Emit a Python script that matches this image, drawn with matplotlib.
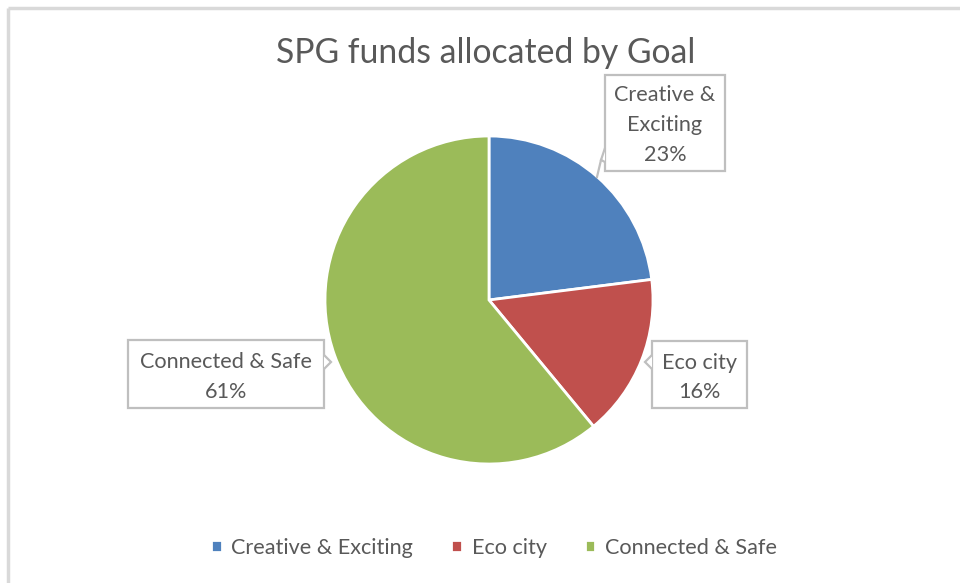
"""Pie chart of SPG funds allocated by goal, with callout labels."""

import matplotlib

matplotlib.use("Agg")
import matplotlib.pyplot as plt
from matplotlib.patches import Rectangle, Polygon

# Data
goals = ["Creative & Exciting", "Eco city", "Connected & Safe"]
shares = [23, 16, 61]
callout_text = ["Creative &\nExciting\n23%", "Eco city\n16%", "Connected & Safe\n61%"]

COLORS = ["#4F81BD", "#C0504D", "#9BBB59"]
TEXT = "#595959"
BOX = "#BFBFBF"

plt.rcParams.update({"font.family": ["Lato", "DejaVu Sans"]})

W, H = 960, 583
fig = plt.figure(figsize=(W / 100, H / 100), dpi=100)

# pie axes: centre (489, 300) px, radius 164 px
cx, cy, r = 489, 300, 164
pie_ax = fig.add_axes([(cx - r) / W, (H - cy - r) / H, 2 * r / W, 2 * r / H])
wedges, _ = pie_ax.pie(
    shares,
    colors=COLORS,
    startangle=90,
    counterclock=False,
    radius=1.0,
    wedgeprops={"edgecolor": "white", "linewidth": 2},
)
pie_ax.set_xlim(-1, 1)
pie_ax.set_ylim(-1, 1)
pie_ax.set_aspect("equal")

# overlay axes in pixel coords (y down)
ov = fig.add_axes([0, 0, 1, 1], facecolor="none")
ov.set_xlim(0, W)
ov.set_ylim(H, 0)
ov.set_axis_off()

# chart frame (left and top edges visible)
ov.plot([8, 8], [H, 8], color="#D9D9D9", lw=2.5, solid_capstyle="butt")
ov.plot([8, W], [8, 8], color="#D9D9D9", lw=2.5, solid_capstyle="butt")

ov.text(486, 53, "SPG funds allocated by Goal", ha="center", va="center",
        fontsize=24.3, color=TEXT)

# callout boxes: (x0, y0, x1, y1)
boxes = [(605, 75, 725, 171), (652, 341, 747, 408), (128, 340, 324, 408)]
offsets = [2, 3, 3]
for (x0, y0, x1, y1), txt, dy in zip(boxes, callout_text, offsets):
    ov.add_patch(Rectangle((x0, y0), x1 - x0, y1 - y0, facecolor="white",
                           edgecolor=BOX, lw=1.6, zorder=3))
    ov.text((x0 + x1) / 2, (y0 + y1) / 2 + dy, txt, ha="center", va="center",
            fontsize=15.6, color=TEXT, linespacing=1.62, zorder=4)

# pointers
ov.add_patch(Polygon([(605, 148), (601, 160), (605, 162)], closed=False,
                     facecolor="white", edgecolor=BOX, lw=1.6, zorder=5))
ov.plot([601, 597], [160, 177], color=BOX, lw=1.6, zorder=5)
ov.add_patch(Polygon([(652, 355), (645, 362), (652, 369)], closed=False,
                     facecolor="white", edgecolor=BOX, lw=1.6, zorder=5))
ov.add_patch(Polygon([(324, 355), (331, 362), (324, 369)], closed=False,
                     facecolor="white", edgecolor=BOX, lw=1.6, zorder=5))

fig.legend(
    wedges,
    goals,
    loc="center",
    bbox_to_anchor=(494 / W, 1 - 548 / H),
    ncol=3,
    frameon=False,
    fontsize=15.6,
    labelcolor=TEXT,
    handlelength=0.5,
    handleheight=0.5,
    handletextpad=0.45,
    columnspacing=1.75,
)

fig.savefig("out.png", dpi=100, facecolor="white")
